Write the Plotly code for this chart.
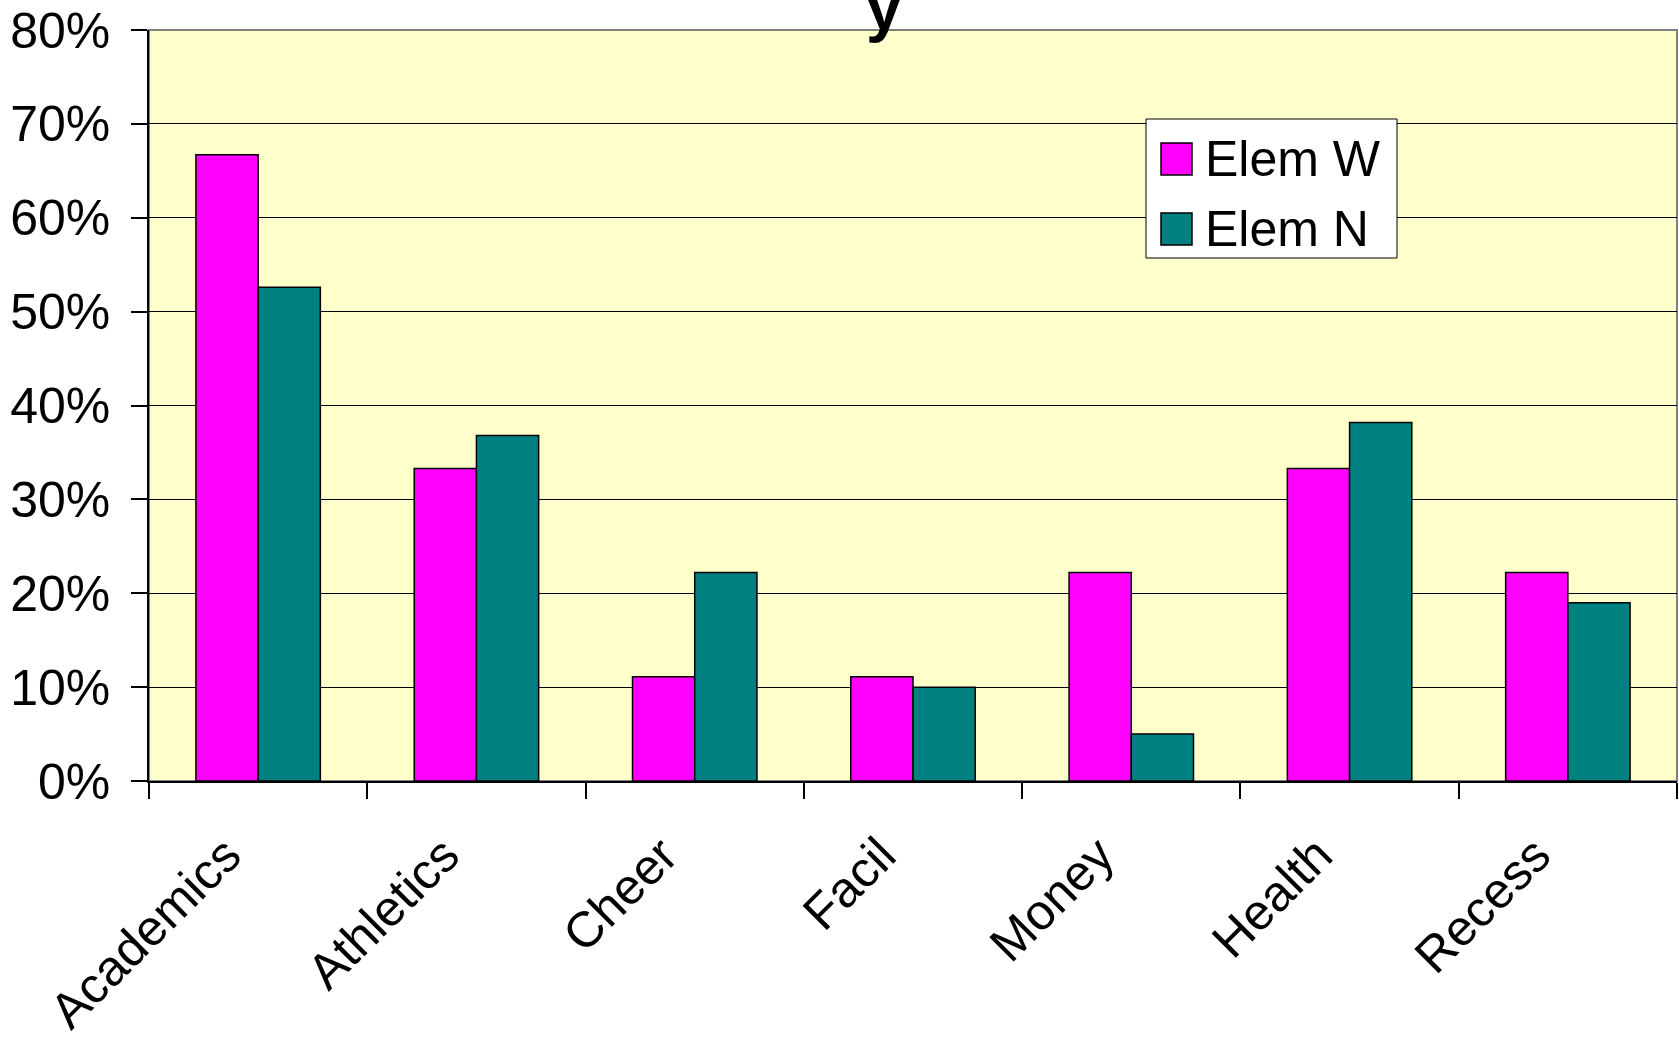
import plotly.graph_objects as go

categories = ["Academics", "Athletics", "Cheer", "Facil", "Money", "Health", "Recess"]
elem_w = [66.7, 33.3, 11.1, 11.1, 22.2, 33.3, 22.2]
elem_n = [52.6, 36.8, 22.2, 10.0, 5.0, 38.2, 19.0]
series_names = ["Elem W", "Elem N"]
series_colors = ["#FF00FF", "#008080"]
y_ticks = [0, 10, 20, 30, 40, 50, 60, 70, 80]
y_tick_labels = [f"{v}%" for v in y_ticks]

W, H = 1679, 1041
L, R, T, B = 149, 2, 30, 260
PW, PH = W - L - R, H - T - B

def px_x(px):
    return (px - L) / PW

def px_y(py):
    return (H - B - py) / PH

FONT = "Arial, 'Liberation Sans', sans-serif"

fig = go.Figure()
for name, vals, col in zip(series_names, [elem_w, elem_n], series_colors):
    fig.add_trace(go.Bar(
        x=categories, y=vals, name=name,
        marker=dict(color=col, line=dict(color="#000000", width=1.5)),
        showlegend=False,
    ))

shapes = [
    dict(type="rect", xref="paper", yref="paper", x0=0, x1=1, y0=0, y1=1,
         line=dict(color="#808080", width=2), layer="below"),
    # legend box
    dict(type="rect", xref="paper", yref="paper",
         x0=px_x(1146), x1=px_x(1397), y0=px_y(258), y1=px_y(119),
         fillcolor="#FFFFFF", line=dict(color="#000000", width=1), layer="above"),
]
annotations = []
leg_rows = [(143, 175), (213, 245)]
for (y0, y1), name, col in zip(leg_rows, series_names, series_colors):
    shapes.append(dict(type="rect", xref="paper", yref="paper",
                       x0=px_x(1161), x1=px_x(1192), y0=px_y(y1), y1=px_y(y0),
                       fillcolor=col, line=dict(color="#000000", width=1.5), layer="above"))
    annotations.append(dict(xref="paper", yref="paper", x=px_x(1203), y=px_y((y0 + y1) / 2),
                            text=name, showarrow=False, xanchor="left", yanchor="middle",
                            font=dict(family=FONT, size=50, color="#000000")))

# visible fragment of the cropped title (its top lies above the page, as in the original)
annotations.append(dict(xref="paper", yref="paper", x=px_x(884), y=px_y(8),
                        text="<b>y</b>", showarrow=False, xanchor="center", yanchor="middle",
                        font=dict(family=FONT, size=64, color="#000000")))

fig.update_layout(
    width=W, height=H,
    margin=dict(l=L, r=R, t=T, b=B, pad=0, autoexpand=False),
    paper_bgcolor="#FFFFFF",
    plot_bgcolor="#FFFFCC",
    barmode="group",
    bargap=0.43,
    bargroupgap=0,
    font=dict(family=FONT, size=50, color="#000000"),
    shapes=shapes,
    annotations=annotations,
    xaxis=dict(
        type="category", tickson="boundaries", ticks="outside", ticklen=16,
        tickwidth=1.5, tickcolor="#000000", tickangle=-45,
        showline=True, linecolor="#000000", linewidth=1.5, showgrid=False,
        ticklabelstandoff=23, ticklabelshift=-32, automargin=False,
        tickfont=dict(family=FONT, size=50, color="#000000"),
    ),
    yaxis=dict(
        range=[0, 80], tickvals=y_ticks, ticktext=y_tick_labels,
        ticks="outside", ticklen=16, tickwidth=1.5, tickcolor="#000000",
        showline=True, linecolor="#000000", linewidth=1.5,
        showgrid=True, gridcolor="#000000", gridwidth=1,
        zeroline=False, ticklabelstandoff=11, automargin=False,
        tickfont=dict(family=FONT, size=50, color="#000000"),
    ),
)

fig.write_html("out.html")
